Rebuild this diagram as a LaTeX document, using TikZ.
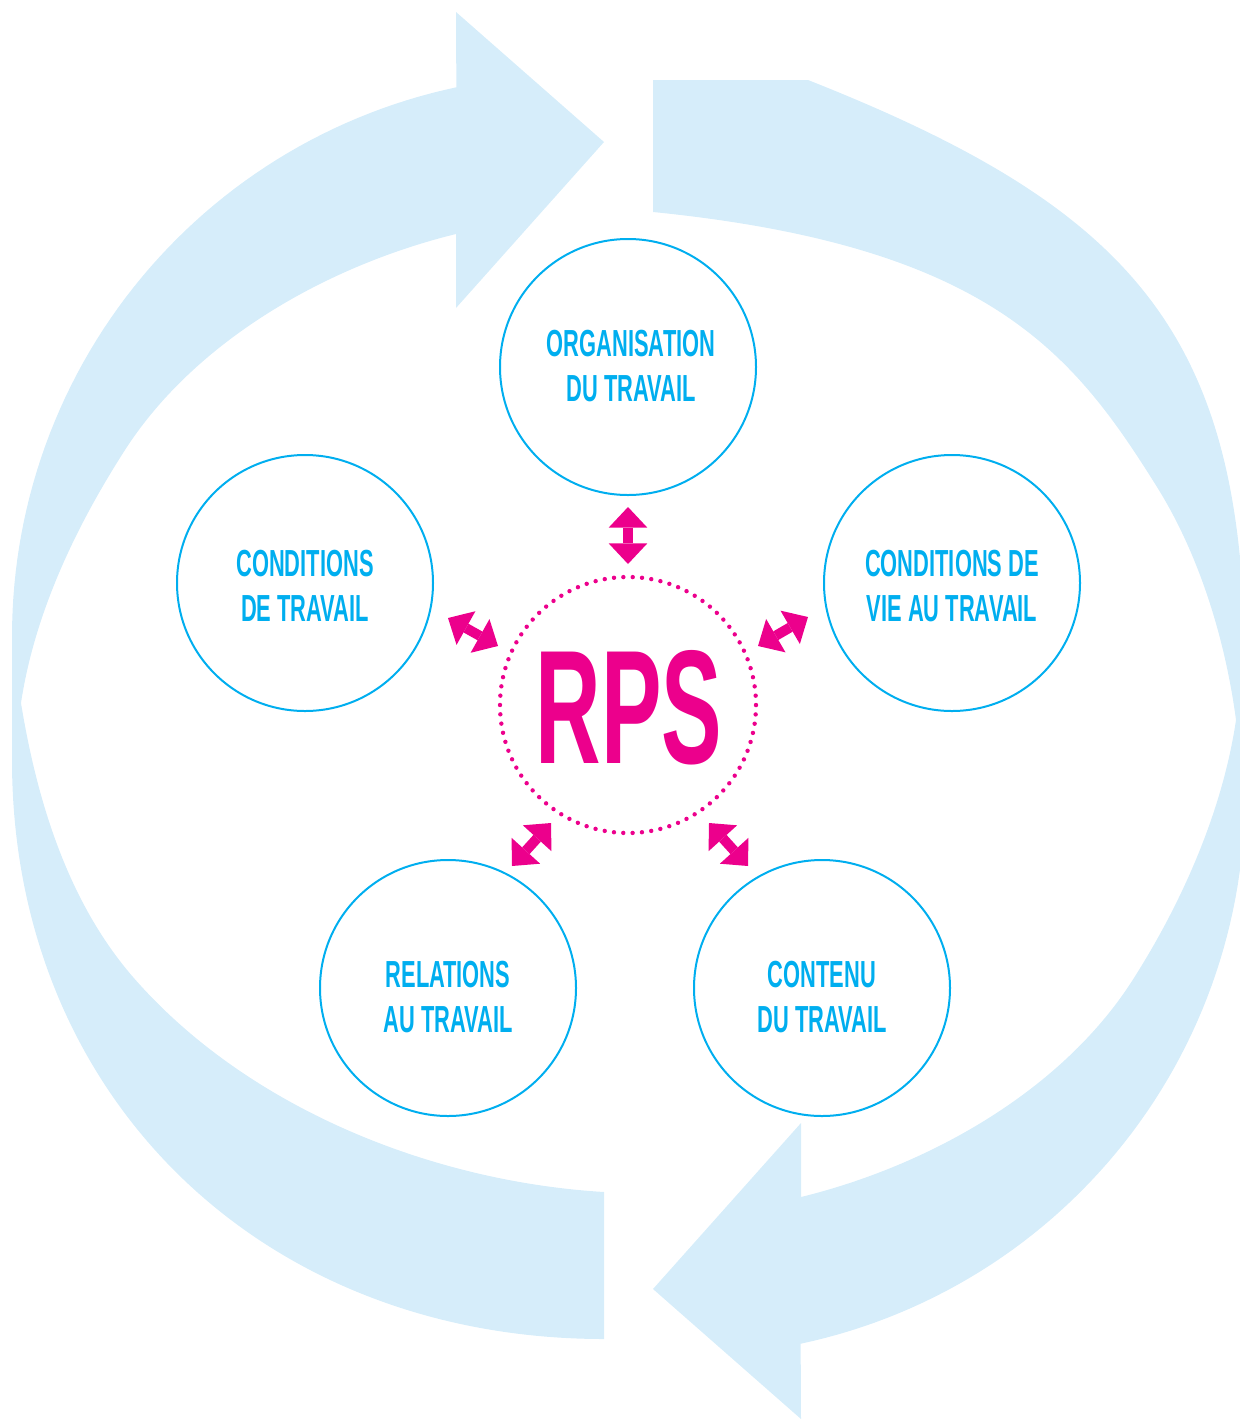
\documentclass[tikz,border=0pt]{standalone}
\usepackage{fontspec}
\newfontfamily\condfont{Liberation Sans}[FakeStretch=0.58]
\newfontfamily\rpsfont{Liberation Sans}[FakeStretch=0.56]
\usetikzlibrary{arrows.meta}
\definecolor{bandblue}{HTML}{D6EDFA}
\definecolor{cyanline}{HTML}{00AEEF}
\definecolor{rpspink}{HTML}{EC008C}
\tikzset{
  bandfill/.style={fill=bandblue},
  bubble/.style={circle, draw=cyanline, line width=1pt, minimum size=128pt, inner sep=0pt},
  bubbletext/.style={text=cyanline, font=\condfont\bfseries\fontsize{18.85pt}{22.5pt}\selectfont, align=center, inner sep=0pt},
  rpsring/.style={circle, draw=rpspink, line width=2.2pt, line cap=round, dash pattern=on 0pt off 4.676pt, minimum size=128pt, inner sep=0pt},
  rpstext/.style={text=rpspink, font=\rpsfont\bfseries\fontsize{81pt}{81pt}\selectfont, inner sep=0pt},
  dblarrow/.style={draw=rpspink, line width=5pt,
    {Triangle[width=19.3pt,length=10.3pt,line width=0pt]}-{Triangle[width=19.3pt,length=10.3pt,line width=0pt]}}
}
\begin{document}
\begin{tikzpicture}[x=0.5pt,y=-0.5pt]
\useasboundingbox (0,0) rectangle (1240,1419);
\begin{scope}
\clip (0,0) rectangle (1240,1419);
% left cycle arrow (tail at bottom, head at top pointing right)
\fill[bandfill] (604,1192) -- (604,1339)
  .. controls (261,1339) and (12,1096) .. (12,760)
  -- plot[domain=180:258, samples=60] ({573+561*cos(\x)},{636+561*sin(\x)})
  -- (456,12) -- (604,142) -- (456,308) -- (456,234)
  .. controls (328,265.4) and (195.7,340) .. (125,450)
  .. controls (75.9,526.4) and (34.6,613) .. (21,703)
  .. controls (37,801) and (68,902) .. (133,977)
  .. controls (246.5,1107.6) and (431.3,1181.6) .. (604,1192)
  -- cycle;
% right cycle arrow (tail at top, head at bottom pointing left)
\fill[bandfill] (653,212) -- (653,80) -- (808,80)
  .. controls (1137,210) and (1245,337) .. (1245,671)
  -- plot[domain=0:78, samples=60] ({684+561*cos(\x)},{795+561*sin(\x)})
  -- (801,1419) -- (653,1289) -- (801,1123) -- (801,1197)
  .. controls (929,1165.6) and (1061.3,1091) .. (1132,981)
  .. controls (1181,904.6) and (1222.4,812) .. (1236,720)
  .. controls (1225.4,640) and (1199.4,554.8) .. (1157,487)
  .. controls (1073.3,353.1) and (990,245.9) .. (653,212)
  -- cycle;
\end{scope}

% theme circles
\node[bubble] (org) at (628,367) {};
\node[bubble] (cdt) at (305,583) {};
\node[bubble] (cvt) at (952,583) {};
\node[bubble] (rat) at (448,988) {};
\node[bubble] (cot) at (822,988) {};

\node[bubbletext] (orgt) at (631,366) {ORGANISATION\\DU TRAVAIL};
\node[bubbletext] (cdtt) at (305,586) {CONDITIONS\\DE TRAVAIL};
\node[bubbletext] (cvtt) at (952,586) {CONDITIONS DE\\VIE AU TRAVAIL};
\node[bubbletext] (ratt) at (448,997) {RELATIONS\\AU TRAVAIL};
\node[bubbletext] (cott) at (822,997) {CONTENU\\DU TRAVAIL};

% centre
\node[rpsring] (rps) at (628,705) {};
\node[rpstext] (rpst) at (629,708) {RPS};

% double arrows
\coordinate (t1) at (628,507);
\coordinate (t2) at (628,564);
\coordinate (l1) at (448,618);
\coordinate (l2) at (498,646);
\coordinate (r1) at (808,617);
\coordinate (r2) at (758,646);
\coordinate (bl1) at (551,823);
\coordinate (bl2) at (512,866);
\coordinate (br1) at (709,823);
\coordinate (br2) at (748,866);
\draw[dblarrow] (t1) -- (t2);
\draw[dblarrow] (l1) -- (l2);
\draw[dblarrow] (r1) -- (r2);
\draw[dblarrow] (bl1) -- (bl2);
\draw[dblarrow] (br1) -- (br2);
\end{tikzpicture}
\end{document}
